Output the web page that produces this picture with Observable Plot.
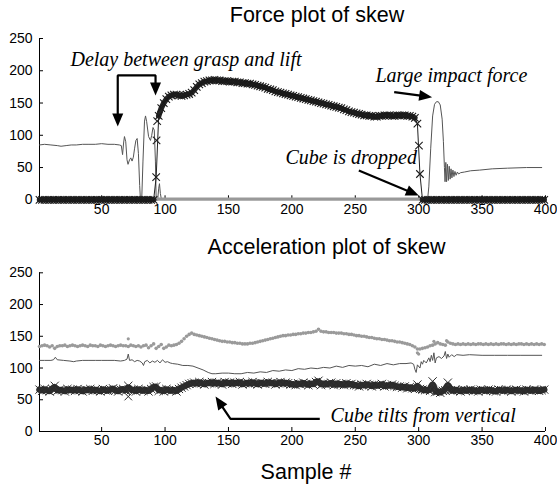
<!DOCTYPE html>
<html><head><meta charset="utf-8">
<script src="https://cdn.jsdelivr.net/npm/d3@7"></script>
<script src="https://cdn.jsdelivr.net/npm/@observablehq/plot@0.6"></script>
<style>
body{margin:0;background:#fff}
#wrap{position:relative;width:557px;height:488px;background:#fff;overflow:hidden}
.t{position:absolute;width:400px;text-align:center;font-family:"Liberation Sans",Arial,sans-serif;font-size:21.5px;line-height:1;color:#000;white-space:nowrap}
.p{position:absolute;left:0}
.p svg{background:transparent !important}
</style></head><body>
<div id="wrap">
<div id="p1" class="p" style="top:0"></div>
<div id="p2" class="p" style="top:228px"></div>
<div class="t" style="left:117px;top:5px">Force plot of skew</div>
<div class="t" style="left:126.5px;top:237px">Acceleration plot of skew</div>
<div class="t" style="left:106px;top:462px">Sample #</div>
</div>
<script>
// ---------- data ----------
const xTicks = [50, 100, 150, 200, 250, 300, 350, 400];
const yTicks = [0, 50, 100, 150, 200, 250];
const samples = d3.range(1, 400, 2); // sample index 1,3,...,399

// Force: thin grey trace [sample, value]
const forceThin = [[1,85],[5,86],[10,85],[15,84],[18,83],[22,84],[26,85],[30,85],[35,86],[40,86],[45,86],[50,87],[55,86],[60,86],[64,85],[65.5,84],[66.5,70],[67.3,88],[68,98],[69,90],[70,62],[70.8,55],[72,62],[73,65],[74,60],[75,66],[76,80],[77,92],[78,95],[79,72],[80,22],[80.6,0],[81.6,0],[82.6,60],[83.8,122],[84.6,130],[85.5,121],[87,98],[88.5,92],[89.5,100],[90.5,112],[91.5,108],[92.4,60],[93,0],[94.2,0],[95,18],[95.6,25],[96.3,10],[97,2],[100,1],[303,1],[307,0],[308,20],[309.5,80],[311,130],[312.5,148],[314,152],[315.5,152],[317,147],[318.5,125],[319.5,90],[320.3,50],[320.8,28],[321.4,58],[322,28],[322.7,55],[323.4,30],[324.1,52],[324.8,32],[325.5,48],[326.2,34],[327,46],[327.8,36],[328.6,44],[329.5,38],[330.5,43],[331.5,40],[333,42],[336,43],[341,45],[348,46],[358,48],[370,49],[385,50],[397,50]];

// Force: light grey trace near zero
const forceLow = [[94,1.5],[303,1.5]];

// Force: marked (x) trace, one value per entry of samples
const forceBand = [
  0,0,0,0,0,0,0,0,0,0, 0,0,0,0,0,0,0,0,0,0, 0,0,0,0,0,0,0,0,0,0, 0,0,0,0,0,0,0,0,0,0, 0,0,0,0,0,0,
  35,
  130,142,150,156,160,162,163,163,162,161, 162,163,164,166,170,175,179,181,183,184,
  185,185,186,185,185,184,184,184,183,183, 183,182,182,181,181,180,180,179,178,177,
  176,175,174,172,171,170,168,167,166,165, 164,163,162,161,160,159,158,157,156,155,
  154,153,152,151,150,149,148,147,146,145, 144,143,142,140,139,137,136,135,134,133,
  132,131,131,130,130,129,129,130,130,131, 131,131,130,130,131,131,131,131,130,130,
  129,127,
  118,
  40,
  0,0,0,0,0,0,0,0,0,0, 0,0,0,0,0,0,0,0,0,0, 0,0,0,0,0,0,0,0,0,0, 0,0,0,0,0,0,0,0,0,0, 0,0,0,0,0,0,0,0,0
];
const forceBandExtra = [[93.3,92],[93.8,122],[300.2,84]];
// continuous stretches of the marked trace (sample ranges)
const forceStretches = [[1, 91, "start"], [95, 297, "hold"], [303, 399, "end"]];

// Acceleration: grey dotted trace
const accelDots = [
  134,135,136,135,133,135,131,134,135,135, 136,134,135,136,135,134,135,136,135,134, 136,135,135,134,136,135,134,135,136,135, 134,135,136,
  135,135,134,136,135,134,135,
  133,135,136,132,135,138,131,134,137,131,133,136,135,
  136,137,139,142,146,150,153,155,153,
  152,151,150,149,148,147,146,145,144,143,142,142,141,
  141,140,140,139,139,138,138,138,139,139,140,141,142,143,144,
  145,146,147,148,149,150,151,151,152,152,153,153,154,154,155,155,156,156,157,158,
  161,
  158,157,157,156,156,156,155,155,155,154,154,153,153,152,
  151,151,150,150,149,148,148,147,146,146,145,145,144,143,143,
  142,141,141,140,139,138,137,135,133,130,
  130,131,132,133,135,136,138,140,138,137,136,
  141,139,138,137,138,137,138,137,138,137, 138,137,138,138,137,138,137,138,137,138, 137,138,138,137,138,137,138,137,138,138, 137,138,137,138,137,138,137,138,137
];
const accelDotsExtra = [[71,146],[299,124],[300,122],[312,142],[322,143]];

// Acceleration: thin grey trace [sample, value]
const accelThin = [[1,112],[5,112],[10,112],[12,113],[13.5,117],[15,113],[20,112],[25,111],[28,110],[30,111],[35,112],[40,112],[45,112],[50,112],[55,112],[60,112],[65,111],[68,112],[70,114],[71,122],[72,112],[74,113],[76,110],[78,112],[80,111],[82,108],[83,104],[84,110],[86,112],[88,108],[90,111],[92,109],[94,112],[96,108],[98,113],[100,109],[102,110],[104,108],[106,107],[110,106],[114,104],[118,104],[122,103],[126,100],[130,97],[134,93],[137,91],[140,91],[145,92],[150,92],[155,91],[160,91],[165,93],[170,92],[175,94],[180,93],[185,96],[190,95],[195,97],[200,96],[205,99],[210,98],[215,100],[220,99],[225,101],[230,100],[235,103],[240,101],[245,104],[250,103],[255,104],[260,102],[265,106],[270,104],[275,107],[280,105],[285,107],[290,107],[294,108],[296,106],[297,98],[298,93],[299,105],[301,100],[302,110],[303,106],[304,112],[306,108],[308,116],[309,110],[310,120],[311,112],[312,124],[313,108],[314,116],[316,118],[318,115],[320,119],[321,126],[322,115],[323,122],[324,117],[326,121],[328,118],[330,121],[335,120],[340,121],[350,120],[360,120],[370,120],[380,120],[397,120]];

// Acceleration: marked (x) trace, one value per entry of samples
const accelBand = [
  66,64,67,65,63,67,72,64,66,65, 63,67,65,66,64,67,65,63,66,65, 67,64,66,65,63,67,65,64,66,68, 65,63,66,67,64,72,65,66,63,67, 65,64,66,63,67,70,71,64,66,63, 67,65,64,66,63,
  67,69,71,73,75,76,
  77,75,78,76,74,77,76,78,75,77, 76,74,78,76,77,75,77,76,78,74, 76,77,75,78,76,74,77,76,75,78, 76,77,74,76,78,75,77,76,74,
  75,73,76,74,77,75,73,76,74,78, 80,73,76,74,75,77,73,76,74,75, 73,76,74,75,73,
  73,71,74,72,75,73,71,74,72,73,75,71,73,72,74,
  72,70,71,69,71,68,70,68,67,74,
  67,66,65,66,64,
  79,
  62,63,61,64,65,
  77,
  65,64,66,65,63,66,64,65,66,64, 65,63,66,65,64,66,65,64,63,66, 65,64,66,65,63,65,66,64,65,63, 66,65,64,66,65,64,65,66
];
const accelBandExtra = [[71,55]];

// Annotations
const forceNotes = [
  {x: 25.4, y: 207.1, text: "Delay between grasp and lift"},
  {x: 265.9, y: 182.3, text: "Large impact force"},
  {x: 195, y: 55.5, text: "Cube is dropped"}
];
const forceArrows = [
  {id: "bracket", pts: [[62.7,121.9],[62.7,192.7],[92.5,192.7],[92.5,171]]},
  {id: "impact", pts: [[280.7,166.8],[306,160.3]]},
  {id: "drop", pts: [[252.8,45.4],[295.7,10.2]]}
];
const forceHeads = [[62.7,113.6,180],[92.5,161.7,180],[310.6,159.1,97.8],[300.1,6.7,112.6]];
const accelNotes = [{x: 230.5, y: 15, text: "Cube tilts from vertical"}];
const accelArrows = [{id: "tilt", pts: [[222,20],[151.6,20],[142.4,47.2]]}];
const accelHeads = [[139.8,55.1,-33.9]];

// ---------- drawing ----------
const headSymbol = {draw(ctx) { ctx.moveTo(0, 0); ctx.lineTo(-5.5, 13); ctx.lineTo(5.5, 13); ctx.closePath(); }};
const sans = "'Liberation Sans', Arial, sans-serif";
const serif = "'Liberation Serif', 'Times New Roman', serif";

function axes() {
  return [
    Plot.axisY(yTicks, {tickSize: -4, tickPadding: 11, fontSize: 14, label: null}),
    Plot.axisX(xTicks, {tickSize: -4, tickPadding: 8, fontSize: 14, label: null}),
    Plot.ruleX([1], {stroke: "#000"}),
    Plot.ruleY([0], {stroke: "#000"})
  ];
}
function arrowMarks(arrows, heads) {
  return [
    ...arrows.map(a => Plot.line(a.pts, {x: d => d[0], y: d => d[1], stroke: "#000", strokeWidth: 2.2, strokeLinejoin: "miter", strokeLinecap: "butt"})),
    Plot.dot(heads, {x: d => d[0], y: d => d[1], rotate: d => d[2], symbol: headSymbol, r: 5, fill: "#000", stroke: "none"})
  ];
}
function noteMarks(notes) {
  return Plot.text(notes, {x: "x", y: "y", text: "text", textAnchor: "start", lineAnchor: "bottom",
    fontFamily: serif, fontStyle: "italic", fontSize: 20, fill: "#000"});
}
function stretchOf(s) {
  const r = forceStretches.find(([a, b]) => s >= a && s <= b);
  return r ? r[2] : null;
}

const common = {
  width: 557, marginLeft: 39, marginRight: 12,
  x: {domain: [1, 400]},
  y: {domain: [0, 250]},
  style: {fontFamily: sans, fontSize: "14px", color: "#000", background: "transparent", overflow: "visible"}
};

const force = Plot.plot({
  ...common, height: 225, marginTop: 38, marginBottom: 25.7,
  marks: [
    ...axes(),
    Plot.line(forceThin, {x: d => d[0], y: d => d[1], stroke: "#555", strokeWidth: 1}),
    Plot.line(forceLow, {x: d => d[0], y: d => d[1], stroke: "#999", strokeWidth: 2.5}),
    Plot.line(forceBand, {x: (d, i) => samples[i], y: d => d, stroke: "#222", strokeWidth: 1}),
    Plot.line(forceBand, {x: (d, i) => samples[i], y: d => d, z: (d, i) => stretchOf(samples[i]),
      filter: (d, i) => stretchOf(samples[i]) !== null, stroke: "#262626", strokeWidth: 5.5}),
    Plot.dot(forceBand, {x: (d, i) => samples[i], y: d => d, symbol: "times", r: 3.5, stroke: "#1a1a1a", strokeWidth: 1.1, fill: "none"}),
    Plot.dot(forceBandExtra, {x: d => d[0], y: d => d[1], symbol: "times", r: 3.5, stroke: "#222", strokeWidth: 1.1, fill: "none"}),
    ...arrowMarks(forceArrows, forceHeads),
    noteMarks(forceNotes)
  ]
});
document.getElementById("p1").appendChild(force);

const accel = Plot.plot({
  ...common, height: 230, marginTop: 44.3, marginBottom: 27,
  marks: [
    ...axes(),
    Plot.dot(accelDots, {x: (d, i) => samples[i], y: d => d, r: 1.8, fill: "#9a9a9a", stroke: "none"}),
    Plot.dot(accelDotsExtra, {x: d => d[0], y: d => d[1], r: 1.6, fill: "#9a9a9a", stroke: "none"}),
    Plot.line(accelThin, {x: d => d[0], y: d => d[1], stroke: "#555", strokeWidth: 1}),
    Plot.line(accelBand, {x: (d, i) => samples[i], y: d => d, stroke: "#2e2e2e", strokeWidth: 6.5, curve: "basis"}),
    Plot.line(accelBand, {x: (d, i) => samples[i], y: d => d, stroke: "#333", strokeWidth: 0.8}),
    Plot.dot(accelBand, {x: (d, i) => samples[i], y: d => d, symbol: "times", r: 3.8, stroke: "#2a2a2a", strokeWidth: 1, fill: "none"}),
    Plot.dot(accelBandExtra, {x: d => d[0], y: d => d[1], symbol: "times", r: 3.5, stroke: "#2a2a2a", strokeWidth: 1, fill: "none"}),
    ...arrowMarks(accelArrows, accelHeads),
    noteMarks(accelNotes)
  ]
});
document.getElementById("p2").appendChild(accel);
</script>
</body></html>
